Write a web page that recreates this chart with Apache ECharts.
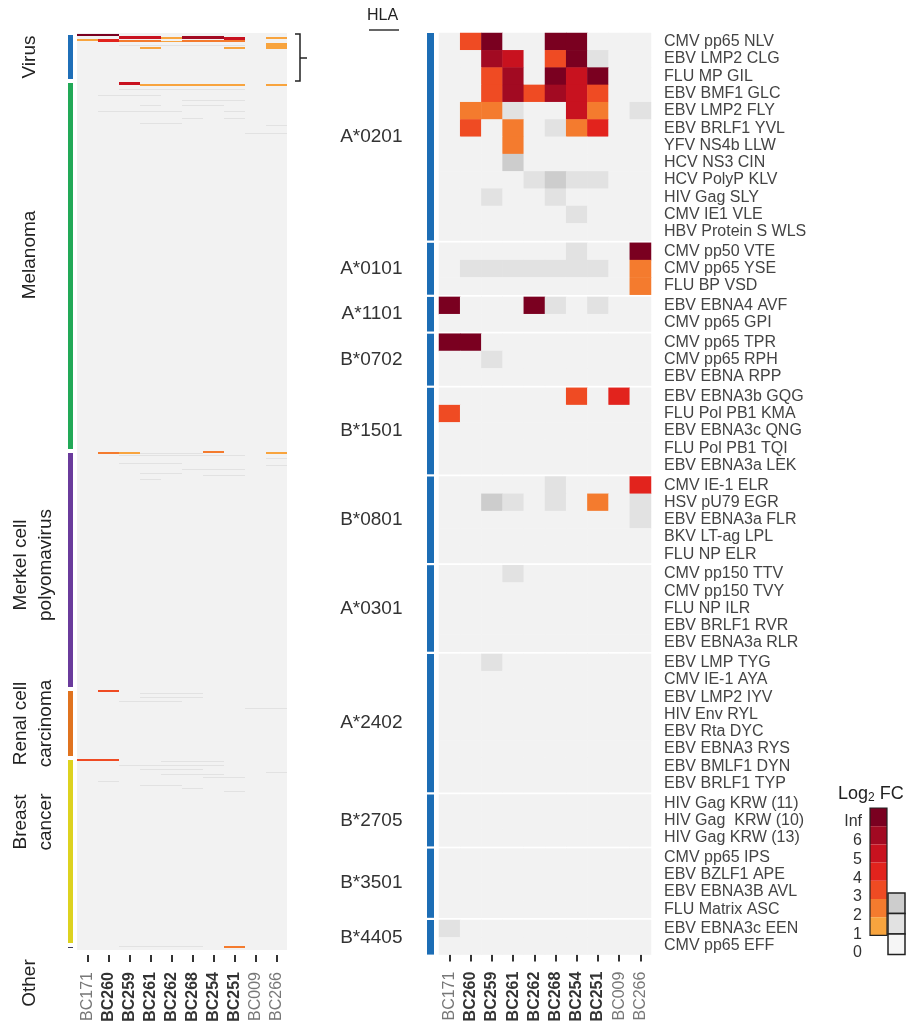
<!DOCTYPE html>
<html><head><meta charset="utf-8">
<script src="https://cdn.jsdelivr.net/npm/echarts@6/dist/echarts.min.js"></script>
<style>html,body{margin:0;padding:0;background:#fff}#c{width:921px;height:1027px}</style>
</head><body><div id="c"></div>
<script>
// ---------------- DATA ----------------
const samples = ['BC171','BC260','BC259','BC261','BC262','BC268','BC254','BC251','BC009','BC266'];
const boldSamples = ['BC260','BC259','BC261','BC262','BC268','BC254','BC251'];

const hlaGroups = ['A*0201','A*0101','A*1101','B*0702','B*1501','B*0801','A*0301','A*2402','B*2705','B*3501','B*4405'];
const hlaGroupPeptides = [
  ['CMV pp65 NLV','EBV LMP2 CLG','FLU MP GIL','EBV BMF1 GLC','EBV LMP2 FLY','EBV BRLF1 YVL','YFV NS4b LLW','HCV NS3 CIN','HCV PolyP KLV','HIV Gag SLY','CMV IE1 VLE','HBV Protein S WLS'],
  ['CMV pp50 VTE','CMV pp65 YSE','FLU BP VSD'],
  ['EBV EBNA4 AVF','CMV pp65 GPI'],
  ['CMV pp65 TPR','CMV pp65 RPH','EBV EBNA RPP'],
  ['EBV EBNA3b GQG','FLU Pol PB1 KMA','EBV EBNA3c QNG','FLU Pol PB1 TQI','EBV EBNA3a LEK'],
  ['CMV IE-1 ELR','HSV pU79 EGR','EBV EBNA3a FLR','BKV LT-ag LPL','FLU NP ELR'],
  ['CMV pp150 TTV','CMV pp150 TVY','FLU NP ILR','EBV BRLF1 RVR','EBV EBNA3a RLR'],
  ['EBV LMP TYG','CMV IE-1 AYA','EBV LMP2 IYV','HIV Env RYL','EBV Rta DYC','EBV EBNA3 RYS','EBV BMLF1 DYN','EBV BRLF1 TYP'],
  ['HIV Gag KRW (11)','HIV Gag  KRW (10)','HIV Gag KRW (13)'],
  ['CMV pp65 IPS','EBV BZLF1 APE','EBV EBNA3B AVL','FLU Matrix ASC'],
  ['EBV EBNA3c EEN','CMV pp65 EFF']
];
// log2 FC level per peptide row x sample: positive = significant (7 = Inf),
// negative = non-significant (grey, magnitude = level), 0 = no signal
const rightValues = [
  [0,3,7,0,0,7,7,0,0,0],
  [0,0,6,5,0,3,7,-1,0,0],
  [0,0,3,6,0,7,5,7,0,0],
  [0,0,3,6,3,6,5,3,0,0],
  [0,2,2,-1,0,0,5,2,0,-1],
  [0,3,0,2,0,-1,2,4,0,0],
  [0,0,0,2,0,0,0,0,0,0],
  [0,0,0,-2,0,0,0,0,0,0],
  [0,0,0,0,-1,-2,-1,-1,0,0],
  [0,0,-1,0,0,-1,0,0,0,0],
  [0,0,0,0,0,0,-1,0,0,0],
  [0,0,0,0,0,0,0,0,0,0],
  [0,0,0,0,0,0,-1,0,0,7],
  [0,-1,-1,-1,-1,-1,-1,-1,0,2],
  [0,0,0,0,0,0,0,0,0,2],
  [7,0,0,0,7,-1,0,-1,0,0],
  [0,0,0,0,0,0,0,0,0,0],
  [7,7,0,0,0,0,0,0,0,0],
  [0,0,-1,0,0,0,0,0,0,0],
  [0,0,0,0,0,0,0,0,0,0],
  [0,0,0,0,0,0,3,0,4,0],
  [3,0,0,0,0,0,0,0,0,0],
  [0,0,0,0,0,0,0,0,0,0],
  [0,0,0,0,0,0,0,0,0,0],
  [0,0,0,0,0,0,0,0,0,0],
  [0,0,0,0,0,-1,0,0,0,4],
  [0,0,-2,-1,0,-1,0,2,0,-1],
  [0,0,0,0,0,0,0,0,0,-1],
  [0,0,0,0,0,0,0,0,0,0],
  [0,0,0,0,0,0,0,0,0,0],
  [0,0,0,-1,0,0,0,0,0,0],
  [0,0,0,0,0,0,0,0,0,0],
  [0,0,0,0,0,0,0,0,0,0],
  [0,0,0,0,0,0,0,0,0,0],
  [0,0,0,0,0,0,0,0,0,0],
  [0,0,-1,0,0,0,0,0,0,0],
  [0,0,0,0,0,0,0,0,0,0],
  [0,0,0,0,0,0,0,0,0,0],
  [0,0,0,0,0,0,0,0,0,0],
  [0,0,0,0,0,0,0,0,0,0],
  [0,0,0,0,0,0,0,0,0,0],
  [0,0,0,0,0,0,0,0,0,0],
  [0,0,0,0,0,0,0,0,0,0],
  [0,0,0,0,0,0,0,0,0,0],
  [0,0,0,0,0,0,0,0,0,0],
  [0,0,0,0,0,0,0,0,0,0],
  [0,0,0,0,0,0,0,0,0,0],
  [0,0,0,0,0,0,0,0,0,0],
  [0,0,0,0,0,0,0,0,0,0],
  [0,0,0,0,0,0,0,0,0,0],
  [-1,0,0,0,0,0,0,0,0,0],
  [0,0,0,0,0,0,0,0,0,0]
];

// Left overview panel: peptide categories and their number of rows
const cancerCategories = ['Virus','Melanoma','Merkel cell\npolyomavirus','Renal cell\ncarcinoma','Breast\ncancer','Other'];
const cancerCategoryRows = [48, 370, 238, 69, 187, 5];
// Non-background hits: [firstRow, rowCount, firstSample, lastSample, level]
const leftHits = [
  [1,2,0,1,7],[3,3,2,3,5],[4,2,4,4,1],[3,3,5,6,6],[4,3,7,7,5],[4,2,9,9,1],
  [6,2,0,0,1],[6,3,1,1,4],[7,2,2,3,2],[7,2,5,7,2],[8,1,4,4,1],
  [10,6,9,9,1],[14,2,3,3,1],[14,2,7,7,1],[12,1,2,7,-1],
  [49,3,2,2,5],[51,2,3,7,1],[51,2,9,9,1],
  [56,1,2,7,-1],[62,1,1,3,-1],[67,1,5,7,-1],[72,1,3,3,-1],[72,1,5,6,-1],
  [78,1,1,4,-1],[78,1,7,7,-1],[85,1,5,5,-1],[85,1,7,7,-1],[90,1,3,4,-1],[92,1,9,9,-1],[100,1,8,9,-1],
  [419,2,1,1,2],[419,2,2,2,1],[418,2,6,6,2],[419,2,9,9,1],[420,1,3,5,-1],[422,1,2,7,-1],
  [425,1,9,9,-1],[430,1,2,4,-1],[432,1,9,9,-1],[436,1,5,7,-1],[440,1,3,4,-1],[442,1,6,7,-1],[446,1,3,3,-1],
  [657,2,1,1,3],[660,1,3,5,-1],[664,1,3,5,-1],[668,1,2,4,-1],[675,1,8,9,-1],
  [726,2,0,1,3],[728,1,4,6,-1],[732,1,2,6,-1],[736,1,3,5,-1],[739,1,9,9,-1],[741,1,4,6,-1],[744,1,6,7,-1],
  [748,1,1,1,-1],[752,1,3,4,-1],[755,1,5,5,-1],[758,1,7,7,-1],
  [913,2,7,7,2],[913,1,2,5,-1]
];
const categoryColors = ['#1f6fb8','#22a957','#6a3b9c','#e0731f','#ddd21f','#3a3a5a'];

const legendLabels = ['Inf','6','5','4','3','2','1','0'];
const levelColors = {'7':'#7a0020','6':'#a20a22','5':'#c8121f','4':'#e2231d','3':'#ef4b23','2':'#f47b2e','1':'#f8a43e',
                     '0':'#f2f2f2','-1':'#e2e2e2','-2':'#cdcdcd'};

// ---------------- LAYOUT ----------------
const FONT = "'Liberation Sans', Arial, sans-serif";
const TOP = 33;
const L_LEFT = 77, L_WIDTH = 210, L_HEIGHT = 917;
const R_LEFT = 439, R_WIDTH = 212, ROW_H = 17.3, GROUP_GAP = 2.2;
const TOTAL_LEFT_ROWS = cancerCategoryRows.reduce((a,b)=>a+b,0);

const sampleLabel = {
  rotate: 90, fontSize: 16, fontFamily: FONT, margin: 17, interval: 0,
  formatter: v => boldSamples.includes(v) ? '{b|' + v + '}' : '{n|' + v + '}',
  rich: { b: {fontWeight:'bold', color:'#333', fontSize:16, fontFamily:FONT}, n: {color:'#777', fontSize:16, fontFamily:FONT} }
};
const sampleTick = {show:true, length:7, alignWithLabel:true, interval:0, lineStyle:{color:'#333', width:2}};

const grids = [], xAxes = [], yAxes = [], series = [];

// left heatmap
grids.push({left:L_LEFT, top:TOP, width:L_WIDTH, height:L_HEIGHT, show:true, backgroundColor:'#f2f2f2', borderWidth:0});
xAxes.push({gridIndex:0, type:'category', data:samples, position:'bottom', offset:5,
  axisLine:{show:false, onZero:false}, axisTick:sampleTick, axisLabel:Object.assign({}, sampleLabel, {margin:17})});
yAxes.push({gridIndex:0, type:'value', min:0, max:TOTAL_LEFT_ROWS, inverse:true, show:false});
series.push({
  type:'custom', xAxisIndex:0, yAxisIndex:0, data:leftHits, clip:true,
  encode:{x:[2,3], y:0},
  renderItem(params, api){
    const r0 = api.value(0), n = api.value(1), c0 = api.value(2), c1 = api.value(3);
    const a = api.coord([c0, r0]), b = api.coord([c1, r0 + n]);
    const w = api.size([1, 0])[0];
    return {type:'rect', shape:{x:a[0]-w/2, y:a[1], width:b[0]-a[0]+w, height:Math.max(1,b[1]-a[1])},
            style:{fill: levelColors[String(api.value(4))]}};
  }
});

// left category bar
grids.push({left:66, top:TOP, width:9, height:L_HEIGHT});
xAxes.push({gridIndex:1, type:'category', data:['cat'], show:false});
yAxes.push({gridIndex:1, type:'value', min:0, max:TOTAL_LEFT_ROWS, inverse:true, show:false});
const labelOffsets = [[-36,'50%'],[-36,174],[-33,114],[-33,'50%'],[-33,64],[-36,38]];
cancerCategories.forEach((name, i) => {
  series.push({
    type:'bar', name, stack:'cat', xAxisIndex:1, yAxisIndex:1, barWidth:'100%',
    data:[cancerCategoryRows[i]],
    itemStyle:{color:categoryColors[i], borderColor:'#fff', borderWidth:2},
    label:{show:true, position:labelOffsets[i], rotate:90, align:'center', verticalAlign:'middle',
           formatter:name, fontSize:19, lineHeight:25, color:'#222', fontFamily:FONT},
    silent:true, animation:false
  });
});

// right panel groups
let rowCursor = 0;
const heatmapIdx = [];
hlaGroups.forEach((g, i) => {
  const peps = hlaGroupPeptides[i];
  const n = peps.length;
  const top = TOP + rowCursor * ROW_H + i * GROUP_GAP;
  const gi = grids.length;
  grids.push({left:R_LEFT, top, width:R_WIDTH, height:n*ROW_H});
  const last = i === hlaGroups.length - 1;
  xAxes.push({gridIndex:gi, type:'category', data:samples, position:'bottom', show:last,
    axisLine:{show:false, onZero:false}, axisTick:sampleTick, axisLabel:sampleLabel});
  yAxes.push({gridIndex:gi, type:'category', data:peps, inverse:true, position:'left', offset:8.5,
    axisLine:{show:true, lineStyle:{color:'#1c6db5', width:7, cap:'butt'}, symbol:'none'}, axisTick:{show:false}, axisLabel:{show:false},
    name:g, nameLocation:'middle', nameRotate:0, nameGap:28,
    nameTextStyle:{fontSize:19, color:'#333', fontFamily:FONT}});
  const yLab = yAxes.length;
  yAxes.push({gridIndex:gi, type:'category', data:peps, inverse:true, position:'right',
    axisLine:{show:false}, axisTick:{show:false},
    axisLabel:{fontSize:16, color:'#444', margin:13, interval:0, fontFamily:FONT}});
  const data = [];
  for (let r = 0; r < n; r++) for (let c = 0; c < samples.length; c++) data.push([c, r, rightValues[rowCursor + r][c]]);
  heatmapIdx.push(series.length);
  series.push({type:'heatmap', xAxisIndex:xAxes.length-1, yAxisIndex:yLab, data, itemStyle:{borderWidth:0}, animation:false});
  rowCursor += n;
});

// annotation graphics and legend
const graphic = [];
graphic.push({type:'text', left:367, top:8, style:{text:'HLA', fontSize:16, fill:'#222', fontFamily:FONT}});
graphic.push({type:'line', shape:{x1:369, y1:30, x2:399, y2:30}, style:{stroke:'#333', lineWidth:1.5}});
graphic.push({type:'polyline', shape:{points:[[295,34],[300,34],[300,81],[295,81]]}, style:{stroke:'#222', lineWidth:1.5, fill:null}});
graphic.push({type:'line', shape:{x1:300, y1:58, x2:307, y2:58}, style:{stroke:'#222', lineWidth:1.5}});
graphic.push({type:'text', x:838, y:784, style:{text:'{a|Log}{s|2}{a| FC}', fontFamily:FONT,
  rich:{a:{fontSize:18, fill:'#222', fontFamily:FONT}, s:{fontSize:12, fill:'#222', verticalAlign:'bottom', padding:[8,0,0,0], fontFamily:FONT}}}});
const LX = 870, LW = 17, LH = 18.2, LTOP = 808;
['7','6','5','4','3','2','1'].forEach((lv, k) => {
  graphic.push({type:'rect', shape:{x:LX, y:LTOP + k*LH, width:LW, height:LH}, style:{fill:levelColors[lv]}});
});
graphic.push({type:'rect', shape:{x:LX, y:LTOP, width:LW, height:7*LH}, style:{fill:null, stroke:'#222', lineWidth:1.2}});
['-2','-1','0'].forEach((lv, k) => {
  graphic.push({type:'rect', shape:{x:LX+LW+1, y:893 + k*20.5, width:LW, height:20.5}, style:{fill:lv==='0'?'#f6f6f6':levelColors[lv], stroke:'#222', lineWidth:1.5}});
});
legendLabels.forEach((t, k) => {
  graphic.push({type:'text', x:862, y:822 + k*18.7, style:{text:t, fontSize:16, fill:'#333', align:'right', verticalAlign:'middle', fontFamily:FONT}});
});

const pieces = Object.keys(levelColors).map(k => ({value:Number(k), color:levelColors[k]}));

const chart = echarts.init(document.getElementById('c'), null, {renderer:'canvas'});
chart.setOption({
  animation:false,
  textStyle:{fontFamily:FONT},
  grid:grids, xAxis:xAxes, yAxis:yAxes, series,
  visualMap:{type:'piecewise', show:false, dimension:2, seriesIndex:heatmapIdx, pieces},
  graphic
});
</script></body></html>
